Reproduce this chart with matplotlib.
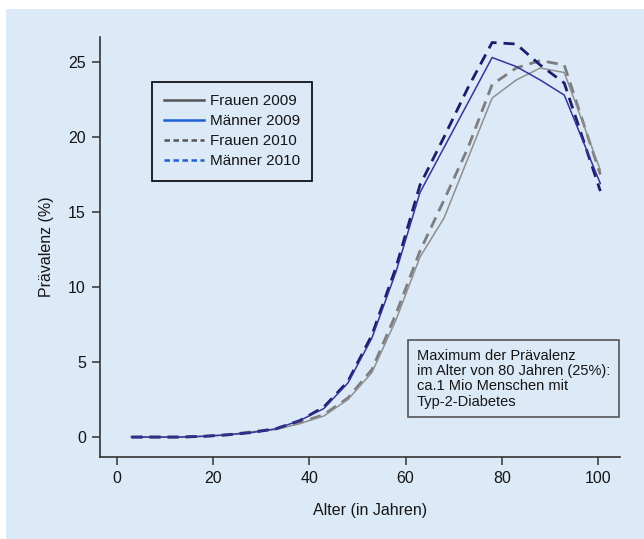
import numpy as np
import matplotlib
matplotlib.use("Agg")
import matplotlib.pyplot as plt
from matplotlib.lines import Line2D
from matplotlib.patches import Rectangle

plt.rcParams['font.family'] = ['Liberation Sans', 'DejaVu Sans']

# age group midpoints (years)
alter = [3, 8, 13, 18, 23, 28, 33, 38, 43, 48, 53, 58, 63, 68, 73, 78, 83, 88, 93, 100.5]

# prevalence in %
frauen_2009 = [0.0, 0.0, 0.0, 0.05, 0.15, 0.35, 0.5, 0.9, 1.4, 2.5, 4.3, 7.8, 12.0, 14.6, 18.6, 22.6, 23.8, 24.6, 24.3, 17.8]
maenner_2009 = [0.0, 0.0, 0.0, 0.05, 0.15, 0.3, 0.55, 1.1, 1.9, 3.6, 6.6, 11.0, 16.3, 19.3, 22.3, 25.3, 24.7, 23.8, 22.8, 16.9]
frauen_2010 = [0.0, 0.0, 0.0, 0.05, 0.15, 0.35, 0.55, 0.95, 1.5, 2.6, 4.5, 8.2, 12.4, 15.8, 19.3, 23.5, 24.6, 25.1, 24.8, 17.5]
maenner_2010 = [0.0, 0.0, 0.0, 0.05, 0.15, 0.3, 0.55, 1.1, 2.0, 3.7, 6.8, 11.3, 16.8, 20.0, 23.3, 26.3, 26.2, 24.8, 23.6, 16.4]

bg = '#dce9f7'
txt = '#151515'

fig = plt.figure(figsize=(6.44, 5.39), dpi=100)
fig.patch.set_facecolor('white')
fig.patches.append(Rectangle((6/644, 0), 1, 1 - 9/539, transform=fig.transFigure,
                             facecolor=bg, edgecolor='none', zorder=-10))

ax = fig.add_axes([0.1548, 0.1521, 0.808, 0.7793])
ax.set_facecolor(bg)

ax.plot(alter, frauen_2009, color='#8f8f8f', lw=1.1, zorder=3)
ax.plot(alter, frauen_2010, color='#7d7d7d', lw=2.0, ls=(0, (4, 2.5)), zorder=2)
ax.plot(alter, maenner_2010, color='#1c1c6b', lw=2.0, ls=(0, (4, 2.5)), zorder=4)
ax.plot(alter, maenner_2009, color='#34349a', lw=1.1, zorder=5)

ax.set_xlim(-3.6, 104.6)
ax.set_ylim(-1.33, 26.67)
ax.set_xticks([0, 20, 40, 60, 80, 100])
ax.set_yticks([0, 5, 10, 15, 20, 25])

for s in ['top', 'right']:
    ax.spines[s].set_visible(False)
for s in ['left', 'bottom']:
    ax.spines[s].set_color('#333333')
    ax.spines[s].set_linewidth(1.2)
ax.tick_params(direction='out', length=6, width=1.1, color='#333333',
               labelsize=11.5, labelcolor=txt, pad=4)

ax.set_xlabel('Alter (in Jahren)', fontsize=11.5, color=txt, labelpad=12)
ax.xaxis.set_label_coords(0.52, -0.11)
ax.set_ylabel('Prävalenz (%)', fontsize=11.5, color=txt, labelpad=10)

handles = [
    Line2D([], [], color='#555555', lw=1.8),
    Line2D([], [], color='#1f5fd6', lw=1.8),
    Line2D([], [], color='#555555', lw=1.8, ls=(0, (2.2, 1.4))),
    Line2D([], [], color='#1f5fd6', lw=1.8, ls=(0, (2.2, 1.4))),
]
labels = ['Frauen 2009', 'Männer 2009', 'Frauen 2010', 'Männer 2010']
leg = ax.legend(handles, labels, loc='upper left', bbox_to_anchor=(0.1005, 0.893),
                borderaxespad=0, fontsize=11, handlelength=2.6, handletextpad=0.4,
                labelspacing=0.40, borderpad=0.8, fancybox=False, framealpha=1,
                labelcolor=txt)
leg.get_frame().set_edgecolor('black')
leg.get_frame().set_linewidth(1.2)
leg.get_frame().set_facecolor(bg)

ax.text(0.61, 0.186,
        'Maximum der Prävalenz\nim Alter von 80 Jahren (25%):\nca.1 Mio Menschen mit\nTyp-2-Diabetes',
        transform=ax.transAxes, fontsize=10.5, linespacing=1.1, color=txt,
        va='center', ha='left',
        bbox=dict(boxstyle='square,pad=0.6', facecolor=bg, edgecolor='#555555', lw=1.2))

fig.savefig('out.png', dpi=100)
